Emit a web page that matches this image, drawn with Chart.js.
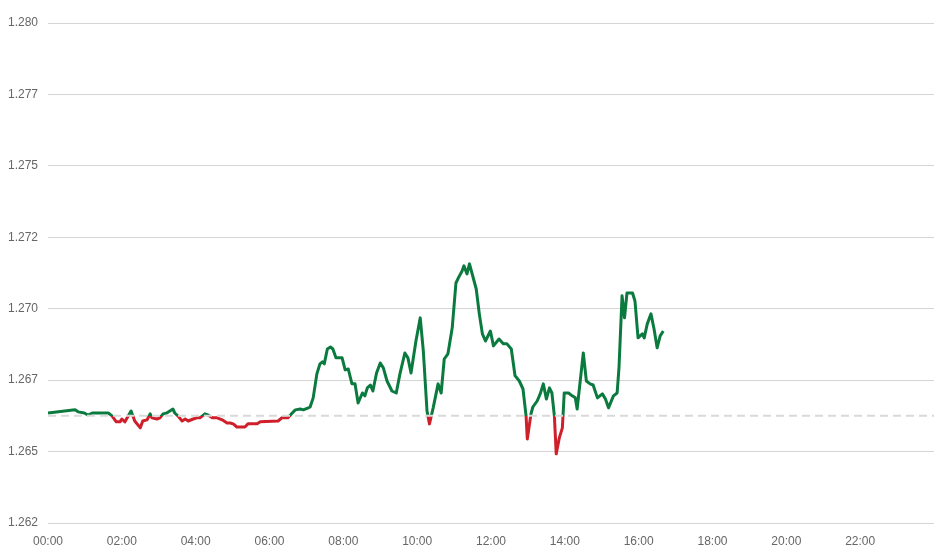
<!DOCTYPE html>
<html>
<head>
<meta charset="utf-8">
<script src="https://cdn.jsdelivr.net/npm/chart.js@4/dist/chart.umd.min.js"></script>
<style>
  html, body { margin: 0; padding: 0; background: #fff; overflow: hidden; }
  canvas { display: block; }
</style>
</head>
<body>
<canvas id="price_canvas" width="943" height="552"></canvas>
<script>
        // minutes after 00:00
        let minutes = [0, 44, 49, 59, 65, 72, 98, 104, 111, 117, 120, 125, 135, 141, 150, 154, 161, 166, 169, 177,
            182, 187, 193, 198, 203, 206, 211, 218, 223, 228, 236, 242, 247, 255, 260, 267, 275, 283, 291, 296,
            301, 307, 320, 325, 340, 345, 374, 380, 390, 397, 402, 410, 415, 423, 426, 431, 437, 442, 446, 449,
            454, 459, 463, 468, 478, 483, 488, 494, 499, 504, 511, 515, 519, 524, 528, 534, 540, 545, 551, 559,
            566, 572, 580, 585, 590, 598, 605, 610, 616, 620, 626, 634, 639, 644, 650, 657, 663, 667, 673, 676,
            681, 685, 689, 696, 701, 706, 711, 719, 724, 733, 740, 746, 753, 759, 766, 772, 777, 779, 785, 788,
            795, 800, 805, 810, 815, 819, 823, 826, 831, 836, 839, 846, 852, 857, 860, 865, 870, 875, 881, 886,
            893, 901, 906, 911, 919, 925, 928, 933, 937, 941, 950, 954, 959, 966, 969, 974, 980, 985, 990, 995, 1000];
        let prices = [1.26635, 1.26646, 1.26639, 1.26635, 1.26628, 1.26635, 1.26635, 1.26625, 1.26604, 1.26604,
            1.26614, 1.26604, 1.26642, 1.26607, 1.26583, 1.26607, 1.26611, 1.26632, 1.26618, 1.26614,
            1.26618, 1.26632, 1.26635, 1.26642, 1.26649, 1.26635, 1.26625, 1.26607, 1.26614, 1.26607,
            1.26614, 1.26618, 1.26618, 1.26632, 1.26628, 1.26618, 1.26618, 1.26611, 1.26600, 1.26600,
            1.26597, 1.26586, 1.26586, 1.26597, 1.26597, 1.26604, 1.26607, 1.26618, 1.26618, 1.26635,
            1.26646, 1.26649, 1.26646, 1.26653, 1.26656, 1.26688, 1.26772, 1.26807, 1.26814, 1.26807,
            1.26859, 1.26866, 1.26859, 1.26828, 1.26828, 1.26786, 1.26789, 1.26737, 1.26737, 1.26670,
            1.26705, 1.26695, 1.26723, 1.26733, 1.26712, 1.26775, 1.26810, 1.26793, 1.26747, 1.26712,
            1.26705, 1.26772, 1.26845, 1.26828, 1.26775, 1.26887, 1.26968, 1.26852, 1.26642, 1.26597,
            1.26653, 1.26737, 1.26705, 1.26824, 1.26842, 1.26933, 1.27090, 1.27108, 1.27132, 1.27150,
            1.27122, 1.27157, 1.27125, 1.27069, 1.26982, 1.26912, 1.26887, 1.26922, 1.26870, 1.26894,
            1.26877, 1.26877, 1.26859, 1.26766, 1.26747, 1.26719, 1.26625, 1.26544, 1.26632, 1.26656,
            1.26677, 1.26702, 1.26737, 1.26684, 1.26723, 1.26705, 1.26625, 1.26492, 1.26548, 1.26583,
            1.26705, 1.26705, 1.26695, 1.26688, 1.26649, 1.26747, 1.26845, 1.26747, 1.26737, 1.26733,
            1.26688, 1.26702, 1.26684, 1.26653, 1.26695, 1.26705, 1.26793, 1.27045, 1.26968, 1.27055,
            1.27055, 1.27027, 1.26898, 1.26912, 1.26898, 1.26947, 1.26982, 1.26929, 1.26863, 1.26905, 1.26922];
        let previous_close = 1.26625;
        let day_range = [0, 1440];
        let y_ticks = [1.2625, 1.265, 1.2675, 1.27, 1.2725, 1.275, 1.2775, 1.28];
        let y_tick_labels = ['1.262', '1.265', '1.267', '1.270', '1.272', '1.275', '1.277', '1.280'];

        let up_color = '#0b7a3e';
        let down_color = '#cf1f2a';

        function pad2(n){ return (n < 10 ? '0' : '') + n; }

        function lineColor(context){
            let chart = context.chart;
            let area = chart.chartArea;
            if(!area){ return up_color; }
            let base_y = chart.scales.y.getPixelForValue(previous_close);
            let r = (base_y - area.top) / (area.bottom - area.top);
            r = Math.min(Math.max(r, 0), 1);
            let g = chart.ctx.createLinearGradient(0, area.top, 0, area.bottom);
            g.addColorStop(0, up_color);
            g.addColorStop(r, up_color);
            g.addColorStop(r, down_color);
            g.addColorStop(1, down_color);
            return g;
        }

        let price_points = minutes.map((m, i) => ({x: m, y: prices[i]}));
        let base_points = day_range.map(m => ({x: m, y: previous_close}));

        let price_chart = new Chart(document.getElementById('price_canvas'), {
            type: 'line',
            data: {
                datasets: [{
                    label: 'Previous close',
                    data: base_points,
                    borderColor: '#d9d9d9',
                    borderWidth: 2,
                    borderDash: [8, 5],
                    pointRadius: 0,
                    fill: false
                }, {
                    label: 'Price',
                    data: price_points,
                    borderColor: lineColor,
                    borderWidth: 3,
                    borderJoinStyle: 'round',
                    pointRadius: 0,
                    tension: 0,
                    fill: false
                }]
            },
            options: {
                responsive: false,
                animation: false,
                layout: { padding: { left: 8, right: 9, top: 23, bottom: 4 } },
                plugins: {
                    legend: { display: false },
                    tooltip: { enabled: false }
                },
                scales: {
                    x: {
                        type: 'linear',
                        min: day_range[0],
                        max: day_range[1],
                        afterBuildTicks: (scale) => {
                            scale.ticks = scale.ticks.filter(t => t.value < day_range[1]);
                        },
                        afterFit: (scale) => { scale.height = 25; },
                        ticks: {
                            stepSize: 120,
                            autoSkip: false,
                            maxRotation: 0,
                            padding: 11,
                            color: '#666',
                            font: { family: 'Liberation Sans, Arial, sans-serif', size: 12 },
                            callback: (v) => pad2(Math.floor(v / 60)) + ':' + pad2(v % 60)
                        },
                        grid: { display: false, drawTicks: false },
                        border: { display: false }
                    },
                    y: {
                        min: y_ticks[0],
                        max: y_ticks[y_ticks.length - 1],
                        afterBuildTicks: (scale) => {
                            scale.ticks = y_ticks.map(v => ({value: v}));
                        },
                        afterFit: (scale) => { scale.width = 40; },
                        ticks: {
                            crossAlign: 'far',
                            padding: 8,
                            color: '#666',
                            font: { family: 'Liberation Sans, Arial, sans-serif', size: 12 },
                            callback: (v, i) => y_tick_labels[i]
                        },
                        grid: { color: '#d4d4d4', drawTicks: false },
                        border: { display: false }
                    }
                }
            }
        });
</script>
</body>
</html>
